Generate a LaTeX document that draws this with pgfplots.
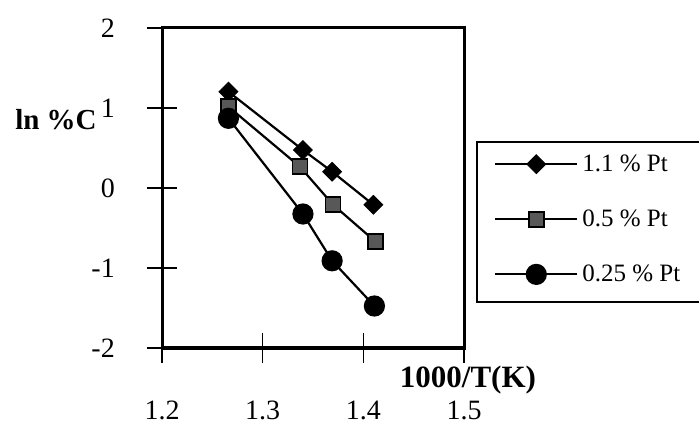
\documentclass[border=0pt]{standalone}
\usepackage{fontspec}
\setmainfont{Liberation Serif}
\usepackage{pgfplots}
\pgfplotsset{compat=1.18}
\definecolor{sqgray}{RGB}{88,88,88}
\begin{document}
\begin{tikzpicture}
\path[use as bounding box] (0,0) rectangle (699bp,430bp);
\begin{axis}[
  at={(162bp,82bp)}, anchor=south west,
  width=302bp, height=320bp, scale only axis,
  xmin=1.2, xmax=1.5, ymin=-2, ymax=2,
  xtick={1.2,1.3,1.4,1.5}, xticklabels={1.2,1.3,1.4,1.5},
  ytick={-2,-1,0,1,2}, yticklabels={-2,-1,0,1,2},
  xtick pos=bottom, ytick pos=left,
  tick align=center, major tick length=30bp,
  major tick style={line width=1.6bp, black},
  axis line style={line width=3bp},
  ticklabel style={font=\fontsize{28bp}{33bp}\selectfont},
  xticklabel style={yshift=-34bp},
  yticklabel style={inner sep=0pt, xshift=-32bp},
  xlabel={1000/T(K)},
  xlabel style={at={(axis description cs:1.013,-0.1)}, anchor=center, font=\fontsize{31bp}{36bp}\selectfont\bfseries},
  ylabel={ln \%C},
  ylabel style={rotate=-90, at={(axis description cs:-0.351,0.715)}, anchor=center, font=\fontsize{29bp}{34bp}\selectfont\bfseries},
  legend style={at={(axis description cs:1.043,0.644)}, anchor=north west, draw=none, fill=none,
    font=\fontsize{25bp}{30bp}\selectfont, inner xsep=17bp, inner ysep=11bp, row sep=33bp},
  legend cell align=left,
  legend image code/.code={\draw[mark repeat=2,mark phase=2,#1] plot coordinates {(0bp,0bp) (41bp,0bp) (82bp,0bp)};},
  clip=false,
]
\addplot[black, line width=2.2bp, mark=square*, mark size=6.6bp, mark options={rotate=45, fill=black, line width=1bp}]
  coordinates {(1.266,1.204) (1.340,0.475) (1.369,0.204) (1.410,-0.21)};
\addlegendentry{\hspace{2bp}1.1 \% Pt}
\addplot[black, line width=2.2bp, mark=square*, mark size=7.5bp, mark options={fill=sqgray, line width=1.6bp}]
  coordinates {(1.266,1.016) (1.337,0.266) (1.370,-0.21) (1.412,-0.67)};
\addlegendentry{\hspace{2bp}0.5 \% Pt}
\addplot[black, line width=2.2bp, mark=*, mark size=9.5bp, mark options={fill=black}]
  coordinates {(1.266,0.871) (1.340,-0.325) (1.369,-0.91) (1.411,-1.475)};
\addlegendentry{\hspace{2bp}0.25 \% Pt}
\draw[line width=1.4bp] (axis description cs:1.043,0.644) rectangle (axis description cs:1.85,0.144);
\end{axis}
\end{tikzpicture}
\end{document}
